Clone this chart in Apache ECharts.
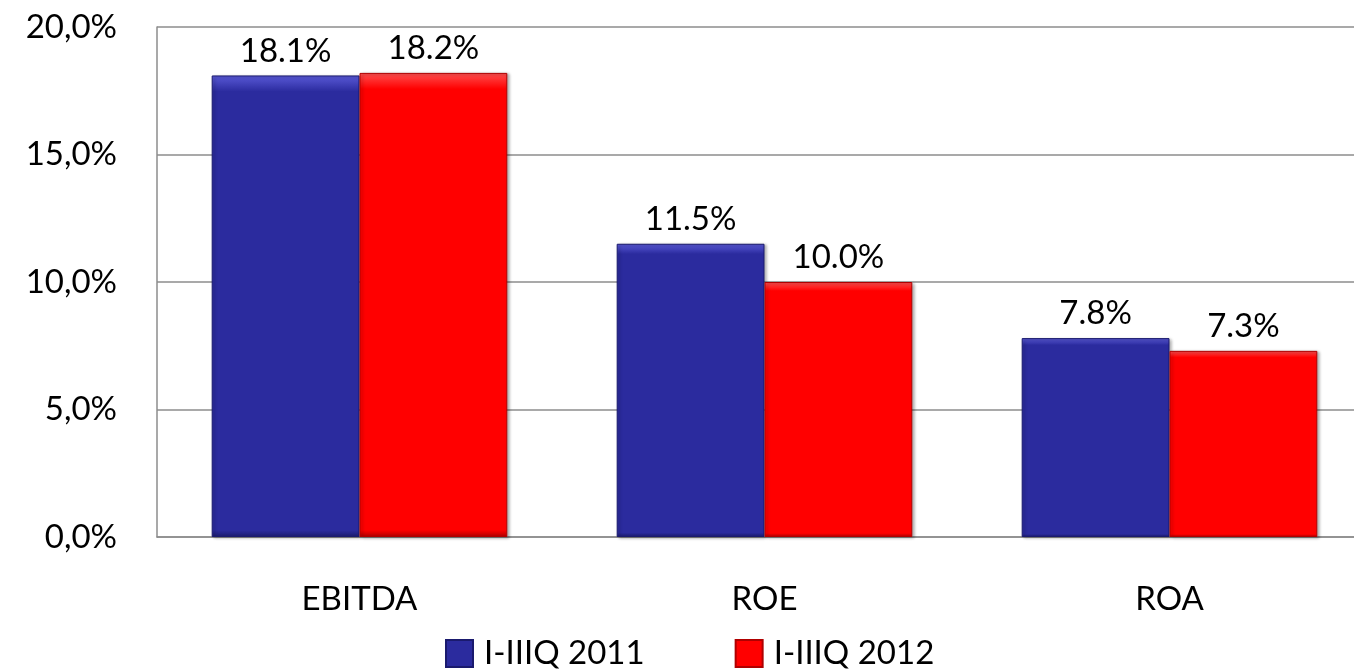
<!DOCTYPE html>
<html>
<head>
<meta charset="utf-8">
<script src="https://cdn.jsdelivr.net/npm/echarts@6/dist/echarts.min.js"></script>
<style>
  html, body { margin: 0; padding: 0; background: #fff; }
  #chart { width: 1354px; height: 671px; }
</style>
</head>
<body>
<div id="chart"></div>
<script>
const categories = ['EBITDA', 'ROE', 'ROA']
const seriesNames = ['I-IIIQ 2011', 'I-IIIQ 2012']
const values2011 = [18.1, 11.5, 7.8]
const values2012 = [18.2, 10.0, 7.3]
const yTicks = [0, 5, 10, 15, 20]

const font = 'Lato'
const chart = echarts.init(document.getElementById('chart'))

const barStyle = (base, light, dark) => ({
  color: new echarts.graphic.LinearGradient(0, 0, 0, 1, [
    { offset: 0, color: light },
    { offset: 0.035, color: base },
    { offset: 0.985, color: base },
    { offset: 1, color: dark }
  ]),
  borderColor: dark,
  borderWidth: 1,
  shadowColor: 'rgba(0, 0, 0, 0.3)',
  shadowBlur: 3,
  shadowOffsetX: 2,
  shadowOffsetY: 1
})

const labelStyle = {
  show: true,
  position: 'top',
  distance: 8,
  fontFamily: font,
  fontSize: 33,
  color: '#000',
  formatter: p => p.value.toFixed(1) + '%'
}

const option = {
  animation: false,
  grid: {
    left: 157,
    top: 27,
    width: 1215,
    height: 510,
    containLabel: false,
    outerBoundsMode: 'none'
  },
  legend: {
    data: seriesNames,
    top: 632,
    left: 440,
    itemWidth: 27,
    itemHeight: 27,
    itemGap: 90,
    icon: 'rect',
    textStyle: { fontFamily: font, fontSize: 33, color: '#000', padding: [0, 0, 0, 6] }
  },
  xAxis: {
    type: 'category',
    data: categories,
    axisTick: { show: false },
    axisLine: { lineStyle: { color: '#8c8c8c', width: 1.5 } },
    axisLabel: { fontFamily: font, fontSize: 33, color: '#000', margin: 46 }
  },
  yAxis: {
    type: 'value',
    min: yTicks[0],
    max: yTicks[yTicks.length - 1],
    interval: 5,
    axisLine: { show: true, lineStyle: { color: '#8c8c8c', width: 1.5 } },
    axisTick: { show: false },
    splitLine: { lineStyle: { color: '#8c8c8c', width: 1.5 } },
    axisLabel: {
      fontFamily: font,
      fontSize: 33,
      color: '#000',
      margin: 40,
      formatter: v => v.toFixed(1).replace('.', ',') + '%'
    }
  },
  series: [
    {
      name: seriesNames[0],
      type: 'bar',
      data: values2011,
      barGap: '0%',
      barCategoryGap: '27%',
      itemStyle: barStyle('#2b2b9e', '#5a5ad8', '#1a1a6e'),
      label: labelStyle
    },
    {
      name: seriesNames[1],
      type: 'bar',
      data: values2012,
      itemStyle: barStyle('#ff0000', '#ff5050', '#b00000'),
      label: labelStyle
    }
  ]
}

chart.setOption(option)
</script>
</body>
</html>
